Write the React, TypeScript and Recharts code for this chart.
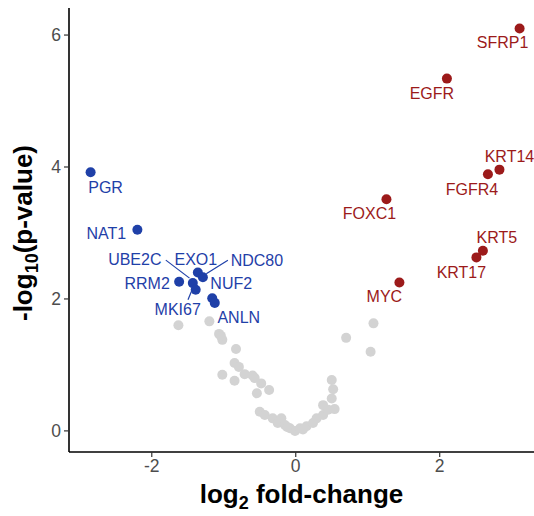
import { ScatterChart, Scatter, XAxis, YAxis } from "recharts";

// up-regulated genes
const upGenes = ["SFRP1", "EGFR", "KRT14", "FGFR4", "FOXC1", "KRT5", "KRT17", "MYC"];
const upFc = [3.11, 2.1, 2.83, 2.67, 1.26, 2.6, 2.51, 1.44];
const upP = [6.1, 5.34, 3.96, 3.89, 3.51, 2.73, 2.63, 2.25];

// down-regulated genes
const downGenes = ["PGR", "NAT1", "UBE2C", "EXO1", "NDC80", "RRM2", "MKI67", "NUF2", "ANLN"];
const downFc = [-2.85, -2.2, -1.43, -1.36, -1.29, -1.62, -1.39, -1.16, -1.125];
const downP = [3.92, 3.05, 2.24, 2.4, 2.33, 2.26, 2.14, 2.01, 1.94];

// not significant
const bgFc = [
  -1.63, -1.2, -1.065, -1.02, -0.83, -0.85, -0.79, -0.71, -1.02, -0.85, -0.57, -0.48,
  -0.37, -0.54, -0.5, -0.43, -0.32, -0.2, -0.25, -0.15, -0.08, -0.01, 0.06, 0.15, 0.24,
  0.29, 0.38, 0.5, 0.52, 0.5, 0.38, 0.54, 0.45, 0.7, 1.08, 1.04, -1.04, -0.6, -0.12, 0.1,
];
const bgP = [
  1.6, 1.66, 1.47, 1.38, 1.24, 1.03, 0.97, 0.86, 0.85, 0.76, 0.8, 0.72, 0.62, 0.57, 0.29,
  0.24, 0.19, 0.19, 0.12, 0.09, 0.04, 0.0, 0.04, 0.07, 0.12, 0.19, 0.24, 0.77, 0.63, 0.49,
  0.39, 0.33, 0.32, 1.41, 1.63, 1.2, 1.44, 0.84, 0.06, 0.02,
];

const xTicks = [-2, 0, 2];
const yTicks = [0, 2, 4, 6];

// label nudges (ggrepel-style), text centre relative to the point
const labelPos: Record<string, { dx: number; dy: number; seg?: number[] }> = {
  SFRP1: { dx: -17, dy: 14.5 },
  EGFR: { dx: -15, dy: 15 },
  KRT14: { dx: 10, dy: -13.5 },
  FGFR4: { dx: -16, dy: 15 },
  FOXC1: { dx: -17, dy: 14 },
  KRT5: { dx: 14, dy: -13.5 },
  KRT17: { dx: -15, dy: 15.5 },
  MYC: { dx: -15, dy: 14 },
  PGR: { dx: 15, dy: 15 },
  NAT1: { dx: -31, dy: 4 },
  UBE2C: { dx: -58, dy: -24, seg: [-27, -23, -3.3, -5] },
  EXO1: { dx: -2, dy: -13 },
  NDC80: { dx: 54, dy: -17, seg: [25, -17, 3.4, -3.4] },
  RRM2: { dx: -32, dy: 1.5 },
  MKI67: { dx: -18, dy: 20, seg: [-7.7, 10, -4.3, 1.7] },
  NUF2: { dx: 19, dy: -15 },
  ANLN: { dx: 24, dy: 15 },
};

const FONT = "'Liberation Sans', Arial, Helvetica, sans-serif";
const RED = "#9C1A1A";
const BLUE = "#1F40A8";
const GREY = "#D3D3D3";

const upData = upGenes.map((g, i) => ({ gene: g, x: upFc[i], y: upP[i] }));
const downData = downGenes.map((g, i) => ({ gene: g, x: downFc[i], y: downP[i] }));
const bgData = bgFc.map((v, i) => ({ x: v, y: bgP[i] }));

const greyDot = (props: any) => <circle cx={props.cx} cy={props.cy} r={5} fill={GREY} />;

const labelledDot = (color: string) => (props: any) => {
  const { cx, cy, payload } = props;
  const lp = labelPos[payload.gene];
  return (
    <g>
      <circle cx={cx} cy={cy} r={5} fill={color} />
      {lp && lp.seg && (
        <line
          x1={cx + lp.seg[0]}
          y1={cy + lp.seg[1]}
          x2={cx + lp.seg[2]}
          y2={cy + lp.seg[3]}
          stroke={color}
          strokeWidth={1.2}
        />
      )}
      {lp && (
        <text
          x={cx + lp.dx}
          y={cy + lp.dy}
          textAnchor="middle"
          dominantBaseline="central"
          fontFamily={FONT}
          fontSize={16}
          fill={color}
        >
          {payload.gene}
        </text>
      )}
    </g>
  );
};

const XTitle = (props: any) => {
  const { x, y, width } = props.viewBox;
  return (
    <text x={x + width / 2} y={y + 51} textAnchor="middle" fontFamily={FONT} fontWeight="bold" fontSize={26} fill="#000">
      log
      <tspan dy={6} fontSize={18}>2</tspan>
      <tspan dy={-6}> fold-change</tspan>
    </text>
  );
};

const YTitle = (props: any) => {
  const { y, height } = props.viewBox;
  const cx = 32;
  const cy = y + height / 2 + 3;
  return (
    <text
      x={cx}
      y={cy}
      transform={`rotate(-90, ${cx}, ${cy})`}
      textAnchor="middle"
      fontFamily={FONT}
      fontWeight="bold"
      fontSize={26}
      fill="#000"
    >
      -log
      <tspan dy={6} fontSize={18}>10</tspan>
      <tspan dy={-6}>(p-value)</tspan>
    </text>
  );
};

export default function App() {
  return (
    <div style={{ position: "absolute", left: 0, top: 0, width: 534, height: 516, background: "#fff" }}>
      <ScatterChart width={534} height={516} margin={{ top: 8, right: 0, bottom: 0, left: 0 }}>
        <XAxis
          type="number"
          dataKey="x"
          domain={[-3.15, 3.31]}
          allowDataOverflow
          ticks={xTicks}
          height={64}
          axisLine={{ stroke: "#000", strokeWidth: 1.6 }}
          tickLine={{ stroke: "#333", strokeWidth: 1.2 }}
          tickSize={5}
          tick={{ fill: "#4D4D4D", fontSize: 17.5, fontFamily: FONT }}
          tickMargin={3}
          label={{ content: XTitle }}
        />
        <YAxis
          type="number"
          dataKey="y"
          domain={[-0.32, 6.41]}
          allowDataOverflow
          ticks={yTicks}
          width={69}
          axisLine={{ stroke: "#000", strokeWidth: 1.6 }}
          tickLine={{ stroke: "#333", strokeWidth: 1.2 }}
          tickSize={5}
          tick={{ fill: "#4D4D4D", fontSize: 17.5, fontFamily: FONT }}
          tickMargin={3}
          label={{ content: YTitle }}
        />
        <Scatter data={bgData} shape={greyDot} isAnimationActive={false} />
        <Scatter data={upData} shape={labelledDot(RED)} isAnimationActive={false} />
        <Scatter data={downData} shape={labelledDot(BLUE)} isAnimationActive={false} />
      </ScatterChart>
    </div>
  );
}
